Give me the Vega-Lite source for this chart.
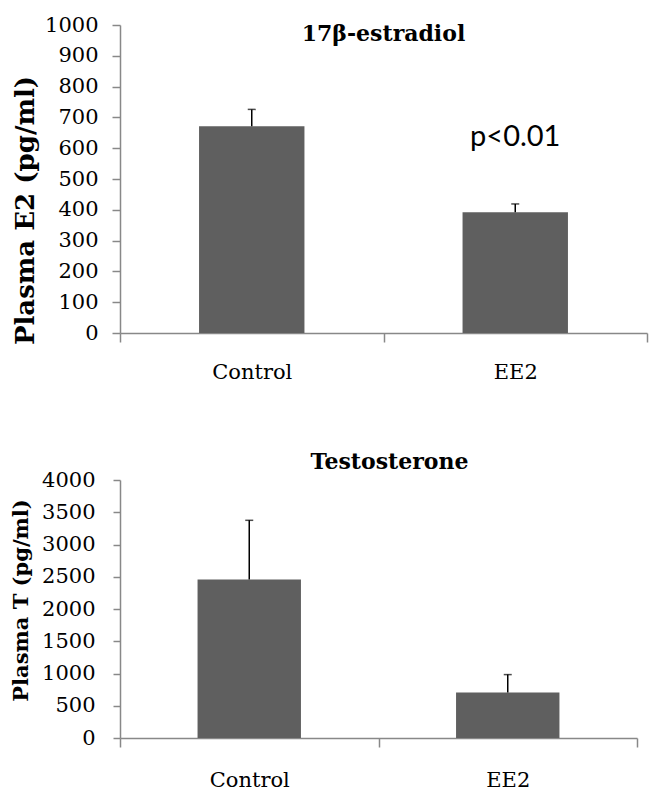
{
  "$schema": "https://vega.github.io/schema/vega-lite/v6.json",
  "background": "white",
  "padding": {"left": 9, "top": 14, "right": 5, "bottom": 5},
  "spacing": 69,
  "config": {
    "view": {"stroke": null},
    "axis": {
      "domainColor": "#888888",
      "tickColor": "#888888",
      "domainWidth": 1.5,
      "tickWidth": 1.5,
      "grid": false,
      "labelFont": "DejaVu Serif",
      "labelColor": "black",
      "titleFont": "DejaVu Serif",
      "titleColor": "black"
    },
    "title": {"font": "DejaVu Serif", "fontWeight": "bold", "color": "black", "anchor": "middle"}
  },
  "vconcat": [
    {
      "width": 527,
      "height": 308,
      "title": {"text": "17β-estradiol", "fontSize": 22, "offset": -32},
      "data": {"values": [
        {"group": "Control", "mean": 671, "upper": 726},
        {"group": "EE2", "mean": 392, "upper": 419}
      ]},
      "encoding": {
        "x": {
          "field": "group", "type": "nominal", "sort": null,
          "scale": {"paddingInner": 0, "paddingOuter": 0},
          "axis": {"title": null, "labelAngle": 0, "tickBand": "extent", "tickSize": 9, "labelPadding": 19, "labelFontSize": 21}
        }
      },
      "layer": [
        {
          "mark": {"type": "bar", "color": "#5f5f5f", "width": {"band": 0.4}},
          "encoding": {
            "y": {
              "field": "mean", "type": "quantitative",
              "scale": {"domain": [0, 1000], "nice": false},
              "axis": {
                "title": "Plasma E2 (pg/ml)",
                "values": [0, 100, 200, 300, 400, 500, 600, 700, 800, 900, 1000],
                "tickCount": 20,
                "format": "d", "labelOverlap": false,
                "tickSize": 8, "labelPadding": 14, "labelFontSize": 21,
                "titleFontSize": 26, "titleFontWeight": "bold",
                "titleX": -82, "titleY": 185
              }
            }
          }
        },
        {
          "mark": {"type": "rule", "color": "black", "strokeWidth": 1.5},
          "encoding": {"y": {"field": "mean", "type": "quantitative"}, "y2": {"field": "upper"}}
        },
        {
          "mark": {"type": "tick", "color": "black", "thickness": 1.5, "size": 8},
          "encoding": {"y": {"field": "upper", "type": "quantitative"}}
        },
        {
          "data": {"values": [{"group": "EE2", "label": "p<0.01"}]},
          "mark": {"type": "text", "font": "Lato", "fontSize": 29, "color": "black"},
          "encoding": {"y": {"datum": 636, "type": "quantitative"}, "text": {"field": "label"}}
        }
      ]
    },
    {
      "width": 517,
      "height": 258,
      "title": {"text": "Testosterone", "fontSize": 22, "offset": -5, "dx": 11},
      "data": {"values": [
        {"group": "Control", "mean": 2456, "upper": 3375},
        {"group": "EE2", "mean": 704, "upper": 983}
      ]},
      "encoding": {
        "x": {
          "field": "group", "type": "nominal", "sort": null,
          "scale": {"paddingInner": 0, "paddingOuter": 0},
          "axis": {"title": null, "labelAngle": 0, "tickBand": "extent", "tickSize": 9, "labelPadding": 22, "labelFontSize": 21}
        }
      },
      "layer": [
        {
          "mark": {"type": "bar", "color": "#5f5f5f", "width": {"band": 0.4}},
          "encoding": {
            "y": {
              "field": "mean", "type": "quantitative",
              "scale": {"domain": [0, 4000], "nice": false},
              "axis": {
                "title": "Plasma T (pg/ml)",
                "values": [0, 500, 1000, 1500, 2000, 2500, 3000, 3500, 4000],
                "tickCount": 20,
                "format": "d", "labelOverlap": false,
                "tickSize": 7, "labelPadding": 18, "labelFontSize": 21,
                "titleFontSize": 21, "titleFontWeight": "bold",
                "titleX": -89, "titleY": 120
              }
            }
          }
        },
        {
          "mark": {"type": "rule", "color": "black", "strokeWidth": 1.5},
          "encoding": {"y": {"field": "mean", "type": "quantitative"}, "y2": {"field": "upper"}}
        },
        {
          "mark": {"type": "tick", "color": "black", "thickness": 1.5, "size": 8},
          "encoding": {"y": {"field": "upper", "type": "quantitative"}}
        }
      ]
    }
  ]
}
